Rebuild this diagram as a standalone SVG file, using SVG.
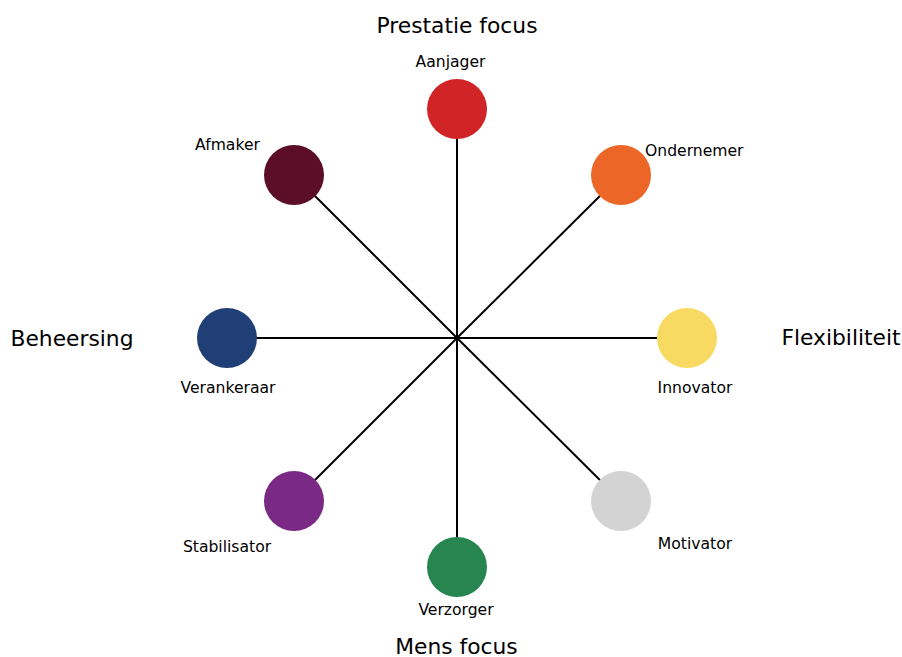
<svg xmlns="http://www.w3.org/2000/svg" width="902" height="657" viewBox="0 0 902 657">
<style>
.axis{font-family:"DejaVu Sans",Verdana,sans-serif;font-size:21.8px;fill:#000}
.lbl{font-family:"DejaVu Sans",Verdana,sans-serif;font-size:15.6px;fill:#000}
.conn line{stroke:#000;stroke-width:2}
</style>
<rect width="902" height="657" fill="#fff"/>
<g id="connectors" class="conn">
<line x1="457" y1="338" x2="457" y2="109"/>
<line x1="457" y1="338" x2="621" y2="175"/>
<line x1="457" y1="338" x2="687" y2="338"/>
<line x1="457" y1="338" x2="621" y2="501"/>
<line x1="457" y1="338" x2="457" y2="567"/>
<line x1="457" y1="338" x2="294" y2="501"/>
<line x1="457" y1="338" x2="227" y2="338"/>
<line x1="457" y1="338" x2="294" y2="175"/>
</g>
<g id="aanjager"><circle cx="457" cy="109" r="30" fill="#d12427"/><text class="lbl" x="450.5" y="67" text-anchor="middle">Aanjager</text></g>
<g id="ondernemer"><circle cx="621" cy="175" r="30" fill="#ec6628"/><text class="lbl" x="645" y="156">Ondernemer</text></g>
<g id="innovator"><circle cx="687" cy="338" r="30" fill="#f8da62"/><text class="lbl" x="695" y="393" text-anchor="middle">Innovator</text></g>
<g id="motivator"><circle cx="621" cy="501" r="30" fill="#d3d3d3"/><text class="lbl" x="695" y="549" text-anchor="middle">Motivator</text></g>
<g id="verzorger"><circle cx="457" cy="567" r="30" fill="#27854f"/><text class="lbl" x="456" y="614.5" text-anchor="middle">Verzorger</text></g>
<g id="stabilisator"><circle cx="294" cy="501" r="30" fill="#7a2a84"/><text class="lbl" x="227" y="552" text-anchor="middle">Stabilisator</text></g>
<g id="verankeraar"><circle cx="227" cy="338" r="30" fill="#213f77"/><text class="lbl" x="228" y="393" text-anchor="middle">Verankeraar</text></g>
<g id="afmaker"><circle cx="294" cy="175" r="30" fill="#5c0d27"/><text class="lbl" x="227.5" y="150" text-anchor="middle">Afmaker</text></g>
<g id="axis-labels">
<text class="axis" x="457" y="33" text-anchor="middle">Prestatie focus</text>
<text class="axis" x="456.5" y="653.5" text-anchor="middle">Mens focus</text>
<text class="axis" x="72" y="346" text-anchor="middle">Beheersing</text>
<text class="axis" x="841" y="344.5" text-anchor="middle">Flexibiliteit</text>
</g>
</svg>
